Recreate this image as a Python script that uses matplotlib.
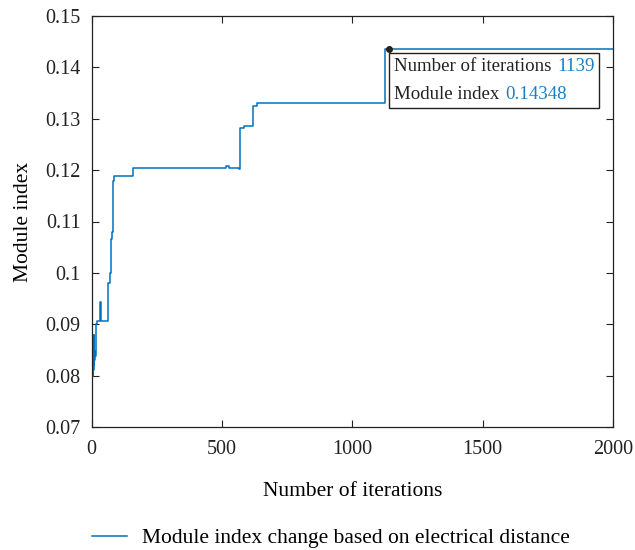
import matplotlib
matplotlib.use("Agg")
import matplotlib.pyplot as plt
from matplotlib.offsetbox import TextArea, HPacker, VPacker, AnnotationBbox

# Step breakpoints (iteration at which the value changes) and values
iterations = [0, 1, 2, 3, 4, 5, 6, 7, 8, 9, 10, 12, 14, 17, 20, 33, 36,
              64, 71, 74, 77, 80, 86, 157, 515, 526, 564, 569, 585, 619, 636,
              1127, 2000]
module_index = [0.074, 0.0895, 0.0797, 0.0880, 0.0800, 0.0865, 0.0810, 0.0845,
                0.0820, 0.0880, 0.0830, 0.0848, 0.0838, 0.0901, 0.0907, 0.0943,
                0.0907, 0.0981, 0.1000, 0.1065, 0.1080, 0.1178, 0.1189, 0.1205,
                0.1209, 0.1205, 0.1203, 0.1282, 0.1285, 0.1324, 0.1330,
                0.14348, 0.14348]
tip_iter = 1139
tip_value = 0.14348

x_ticks = [0, 500, 1000, 1500, 2000]
y_ticks = [0.07, 0.08, 0.09, 0.1, 0.11, 0.12, 0.13, 0.14, 0.15]
y_ticklabels = ["0.07", "0.08", "0.09", "0.1", "0.11", "0.12", "0.13", "0.14", "0.15"]

plt.rcParams['font.family'] = ['Liberation Serif', 'DejaVu Serif']
FS_TICK = 14.5
FS = 15.5
BLUE = '#0072BD'

fig = plt.figure(figsize=(6.35, 5.5), dpi=100)
ax = fig.add_axes([91.7/635, 1-427/550, (613-91.7)/635, (427-16)/550])

line, = ax.plot(iterations, module_index, drawstyle='steps-post', color=BLUE, lw=1.1)
ax.set_xlim(0, 2000)
ax.set_ylim(0.07, 0.15)
ax.set_xticks(x_ticks)
ax.set_yticks(y_ticks)
ax.set_yticklabels(y_ticklabels)
ax.tick_params(direction='in', top=True, right=True, length=5, width=0.8,
               labelsize=FS_TICK, colors='#222222')
ax.tick_params(axis='x', pad=9)
ax.tick_params(axis='y', pad=8)
for s in ax.spines.values():
    s.set_linewidth(0.9)
    s.set_color('#222222')
ax.set_xlabel("Number of iterations", fontsize=FS, labelpad=17)
ax.set_ylabel("Module index", fontsize=FS, labelpad=9)

# Data tip
ax.plot([tip_iter], [tip_value], 'o', color='#222222', ms=4, zorder=5)
tp = dict(fontsize=13.6)
row1 = HPacker(children=[TextArea("Number of iterations", textprops=dict(color='#222222', **tp)),
                         TextArea(f"{tip_iter}", textprops=dict(color='#1a7fc4', **tp))],
               pad=0, sep=4)
row2 = HPacker(children=[TextArea("Module index", textprops=dict(color='#222222', **tp)),
                         TextArea(f"{tip_value}", textprops=dict(color='#1a7fc4', **tp))],
               pad=0, sep=4)
box = VPacker(children=[row1, row2], pad=0, sep=8, align='left')
ab = AnnotationBbox(box, (tip_iter, tip_value), xybox=(4, -6), xycoords='data',
                    boxcoords='offset points', box_alignment=(0, 1),
                    frameon=True, pad=0.3,
                    bboxprops=dict(edgecolor='#222222', facecolor='white', lw=1.0,
                                   boxstyle='square,pad=0.35'))
ax.add_artist(ab)

fig.legend([line], ["Module index change based on electrical distance"],
           loc='center left', bbox_to_anchor=(73/635, 1-538/550), frameon=False,
           fontsize=FS, handlelength=1.6, handletextpad=0.7)

fig.savefig("out.png", dpi=100)
